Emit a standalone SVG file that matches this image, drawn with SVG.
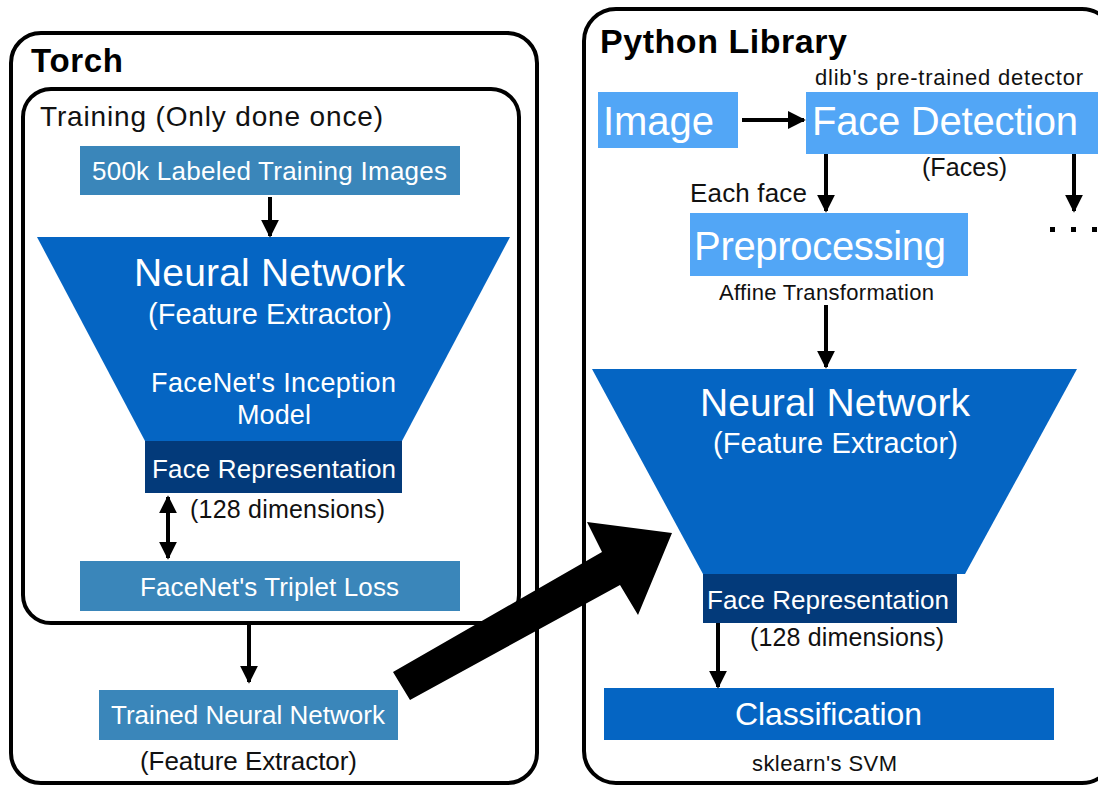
<svg xmlns="http://www.w3.org/2000/svg" width="1098" height="786" viewBox="0 0 1098 786">
<defs>
<style>
.frame{fill:none;stroke:#000;stroke-width:4}
.steel{fill:#3a86ba}
.blue{fill:#0565c3}
.dark{fill:#033a7a}
.light{fill:#52a6f6}
.wt{fill:#fff;font-family:"Liberation Sans",Arial,sans-serif}
.bt{fill:#111;font-family:"Liberation Sans",Arial,sans-serif}
.title{fill:#000;font-family:"Liberation Sans",Arial,sans-serif;font-weight:bold}
.ln{stroke:#000;stroke-width:4;fill:none}
</style>
<marker id="ah" viewBox="0 0 10 10" refX="9" refY="5" markerWidth="4.5" markerHeight="4.5" orient="auto-start-reverse" markerUnits="strokeWidth">
<path d="M0,0 L10,5 L0,10 z" fill="#000"/>
</marker>
</defs>
<rect width="1098" height="786" fill="#fff"/>

<g id="torch">
<rect class="frame" x="11" y="33" width="526" height="750" rx="30"/>
<text class="title" x="31" y="72" font-size="33" textLength="92">Torch</text>
</g>
<g id="training">
<rect class="frame" x="23" y="89" width="496" height="534" rx="28"/>
<text class="bt" x="40" y="126" font-size="28" textLength="343">Training (Only done once)</text>
</g>
<g id="images500k">
<rect class="steel" x="80" y="146" width="380" height="49"/>
<text class="wt" x="92" y="180" font-size="26" textLength="355">500k Labeled Training Images</text>
</g>
<g id="nn1">
<polygon class="blue" points="37,237 510,237 402,441 145,441"/>
<text class="wt" x="134" y="286" font-size="39" textLength="271">Neural Network</text>
<text class="wt" x="148" y="324" font-size="29" textLength="244">(Feature Extractor)</text>
<text class="wt" x="151" y="392" font-size="27" textLength="245">FaceNet's Inception</text>
<text class="wt" x="237" y="424" font-size="27" textLength="74">Model</text>
</g>
<g id="facerep1">
<rect class="dark" x="145" y="441" width="257" height="52"/>
<text class="wt" x="152" y="478" font-size="26" textLength="244">Face Representation</text>
<text class="bt" x="190" y="518" font-size="25" textLength="195">(128 dimensions)</text>
</g>
<g id="triplet">
<rect class="steel" x="80" y="561" width="380" height="50"/>
<text class="wt" x="140" y="596" font-size="26" textLength="259">FaceNet's Triplet Loss</text>
</g>
<g id="trained">
<rect class="steel" x="99" y="690" width="299" height="50"/>
<text class="wt" x="111" y="724" font-size="26" textLength="274">Trained Neural Network</text>
<text class="bt" x="140" y="770" font-size="26" textLength="217">(Feature Extractor)</text>
</g>

<g id="python">
<rect class="frame" x="584" y="9" width="530" height="774" rx="32"/>
<text class="title" x="600" y="53" font-size="34" textLength="247">Python Library</text>
</g>
<g id="image">
<rect class="light" x="598" y="92" width="140" height="56"/>
<text class="wt" x="603" y="135" font-size="40" textLength="111">Image</text>
</g>
<g id="facedet">
<text class="bt" x="815" y="85" font-size="22" textLength="268">dlib's pre-trained detector</text>
<rect class="light" x="806" y="92" width="292" height="62"/>
<text class="wt" x="812" y="135" font-size="40" textLength="266">Face Detection</text>
<text class="bt" x="922" y="176" font-size="25" textLength="85">(Faces)</text>
</g>
<g id="more">
<rect x="1050" y="227" width="5" height="5" fill="#000"/>
<rect x="1071" y="227" width="5" height="5" fill="#000"/>
<rect x="1092" y="227" width="5" height="5" fill="#000"/>
</g>
<g id="preproc">
<text class="bt" x="690" y="202" font-size="26" textLength="117">Each face</text>
<rect class="light" x="690" y="213" width="278" height="63"/>
<text class="wt" x="694" y="260" font-size="40" textLength="252">Preprocessing</text>
<text class="bt" x="719" y="300" font-size="22" textLength="215">Affine Transformation</text>
</g>
<g id="nn2">
<polygon class="blue" points="592,369 1077,369 965,574 703,574"/>
<text class="wt" x="700" y="416" font-size="39" textLength="270">Neural Network</text>
<text class="wt" x="713" y="453" font-size="29" textLength="245">(Feature Extractor)</text>
</g>
<g id="facerep2">
<rect class="dark" x="703" y="574" width="254" height="49"/>
<text class="wt" x="707" y="609" font-size="26" textLength="242">Face Representation</text>
<text class="bt" x="750" y="646" font-size="25" textLength="194">(128 dimensions)</text>
</g>
<g id="classif">
<rect class="blue" x="604" y="688" width="450" height="52"/>
<text class="wt" x="735" y="725" font-size="32" textLength="187">Classification</text>
<text class="bt" x="752" y="771" font-size="22" textLength="145">sklearn's SVM</text>
</g>

<g id="connectors">
<line class="ln" x1="270" y1="197" x2="270" y2="236" marker-end="url(#ah)"/>
<line class="ln" x1="168" y1="497" x2="168" y2="558" marker-start="url(#ah)" marker-end="url(#ah)"/>
<line class="ln" x1="249" y1="623" x2="249" y2="682" marker-end="url(#ah)"/>
<line class="ln" x1="742" y1="120" x2="804" y2="120" marker-end="url(#ah)"/>
<line class="ln" x1="826" y1="154" x2="826" y2="211" marker-end="url(#ah)"/>
<line class="ln" x1="1074" y1="154" x2="1074" y2="211" marker-end="url(#ah)"/>
<line class="ln" x1="826" y1="305" x2="826" y2="367" marker-end="url(#ah)"/>
<line class="ln" x1="718" y1="623" x2="718" y2="687" marker-end="url(#ah)"/>
<polygon points="393,672 602,552 587,522 672,533 638,615 620,585 410,700" fill="#000"/>
</g>
</svg>
